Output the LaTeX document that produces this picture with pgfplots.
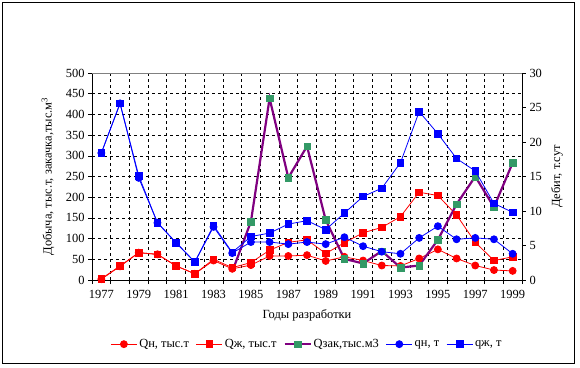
\documentclass[border=0pt]{standalone}
\usepackage{pgfplots}
\pgfplotsset{compat=1.18}
\usepackage{fontspec}
\setmainfont{Liberation Serif}
\definecolor{qred}{HTML}{FF0000}
\definecolor{qblue}{HTML}{0000FF}
\definecolor{qpurple}{HTML}{800080}
\definecolor{qgreen}{HTML}{339966}
\newcommand{\chf}{\fontsize{12.5}{14}\selectfont}
\pgfplotsset{
  common/.style={
    scale only axis, width=430bp, height=207bp,
    at={(92bp,88bp)}, anchor=south west,
    xmin=1976.5, xmax=1999.5,
    tick align=outside, major tick length=4bp,
    tick style={black, line width=0.6pt},
    /pgf/number format/1000 sep={},
    /pgf/number format/assume math mode=true,
    tick label style={font=\chf},
  },
  mylegimg/.style={legend image code/.code={
    \draw[mark repeat=2,mark phase=2,##1] plot coordinates {(0bp,0bp) (13bp,0bp) (26bp,0bp)};}},
}
\begin{document}
\begin{tikzpicture}
\path[use as bounding box] (0,0) rectangle (580bp,368bp);
\draw[black, line width=0.8pt] (2.5bp,5bp) rectangle (574bp,365.5bp);
\begin{axis}[common,
  axis x line*=bottom, axis y line*=left,
  axis line style={black, line width=0.8pt},
  ymin=0, ymax=500, ytick={0,50,...,500},
  xtick={1976.5,1977.5,1978.5,1979.5,1980.5,1981.5,1982.5,1983.5,1984.5,1985.5,1986.5,1987.5,1988.5,1989.5,1990.5,1991.5,1992.5,1993.5,1994.5,1995.5,1996.5,1997.5,1998.5,1999.5},
  xticklabels={},
  extra x ticks={1977,1979,1981,1983,1985,1987,1989,1991,1993,1995,1997,1999},
  extra x tick labels={1977,1979,1981,1983,1985,1987,1989,1991,1993,1995,1997,1999},
  extra x tick style={major tick length=0pt, grid=none},
  xticklabel style={yshift=-7bp},
  grid=major,
  major grid style={black, line width=0.6pt, dash pattern=on 3bp off 3bp},
  every axis x label/.style={at={(rel axis cs:0.5,0)}, anchor=center, yshift=-35bp, font=\chf},
  every axis y label/.style={at={(rel axis cs:0,0.5)}, xshift=-44bp, rotate=90, anchor=center, font=\chf},
  xlabel={Годы разработки},
  ylabel={Добыча, тыс.т, закачка,тыс.м\textsuperscript{3}},
]
\draw[gray, line width=0.8pt] (rel axis cs:0,1) -- (rel axis cs:1,1);
% Qн
\addplot[qred, line width=0.8pt, mark=*, mark size=3.5bp, mark options={solid, fill=qred, draw=qred}] coordinates {
(1977,2) (1978,33) (1979,66) (1980,62) (1981,34) (1982,15) (1983,47) (1984,27) (1985,36) (1986,58) (1987,58) (1988,60) (1989,46) (1990,56) (1991,47) (1992,35) (1993,34) (1994,52) (1995,74) (1996,52) (1997,35) (1998,24) (1999,22)};
% Qж
\addplot[qred, line width=0.8pt, mark=square*, mark size=3.3bp, mark options={solid, fill=qred, draw=qred}] coordinates {
(1977,3) (1978,34) (1979,66) (1980,62) (1981,34) (1982,15) (1983,50) (1984,30) (1985,42) (1986,72) (1987,91) (1988,97) (1989,64) (1990,90) (1991,114) (1992,127) (1993,153) (1994,212) (1995,204) (1996,157) (1997,91) (1998,47) (1999,56)};
% Qзак
\addplot[qpurple, line width=2.2pt, mark=square*, mark size=3.3bp, mark options={solid, fill=qgreen, draw=qgreen, line width=0.4pt},
  mark indices={2,...,16}] coordinates {
(1984,20) (1985,141) (1986,439) (1987,247) (1988,323) (1989,145) (1990,51) (1991,40) (1992,70) (1993,30) (1994,35) (1995,97) (1996,183) (1997,250) (1998,176) (1999,283)};
\end{axis}
\begin{axis}[common,
  axis x line=none, axis y line*=right,
  axis line style={black, line width=0.8pt},
  ymin=0, ymax=30, ytick={0,5,...,30},
  every axis y label/.style={at={(rel axis cs:1,0.5)}, xshift=35bp, rotate=90, anchor=center, font=\chf},
  ylabel={Дебит, т.сут},
  legend columns=5,
  legend style={draw=none, fill=none, at={(0.5,-0.31)}, anchor=center,
    font=\chf,
    /tikz/every even column/.append style={column sep=5bp},
    cells={anchor=west}},
  mylegimg,
]
\addlegendimage{qred, line width=0.8pt, mark=*, mark size=3.5bp, mark options={solid, fill=qred}}
\addlegendentry{Qн, тыс.т}
\addlegendimage{qred, line width=0.8pt, mark=square*, mark size=3.3bp, mark options={solid, fill=qred}}
\addlegendentry{Qж, тыс.т}
\addlegendimage{qpurple, line width=2.2pt, mark=square*, mark size=3.3bp, mark options={solid, fill=qgreen, draw=qgreen, line width=0.4pt}}
\addlegendentry{Qзак,тыс.м3}
% qн
\addplot[qblue, line width=0.8pt, mark=*, mark size=3.5bp, mark options={solid, fill=qblue, draw=qblue}] coordinates {
(1977,18.4) (1978,25.6) (1979,14.8) (1980,8.3) (1981,5.4) (1982,2.6) (1983,7.7) (1984,3.9) (1985,5.5) (1986,5.5) (1987,5.2) (1988,5.5) (1989,5.2) (1990,6.2) (1991,4.9) (1992,4.1) (1993,3.8) (1994,6.1) (1995,7.8) (1996,5.9) (1997,6.1) (1998,5.9) (1999,3.8)};
\addlegendentry{qн, т}
% qж
\addplot[qblue, line width=0.8pt, mark=square*, mark size=3.3bp, mark options={solid, fill=qblue, draw=qblue}] coordinates {
(1977,18.4) (1978,25.6) (1979,15.1) (1980,8.3) (1981,5.4) (1982,2.6) (1983,7.9) (1984,4.0) (1985,6.3) (1986,6.8) (1987,8.1) (1988,8.6) (1989,7.3) (1990,9.7) (1991,12.1) (1992,13.3) (1993,17.0) (1994,24.4) (1995,21.2) (1996,17.6) (1997,15.8) (1998,11.1) (1999,9.8)};
\addlegendentry{qж, т}
\end{axis}
\end{tikzpicture}
\end{document}
